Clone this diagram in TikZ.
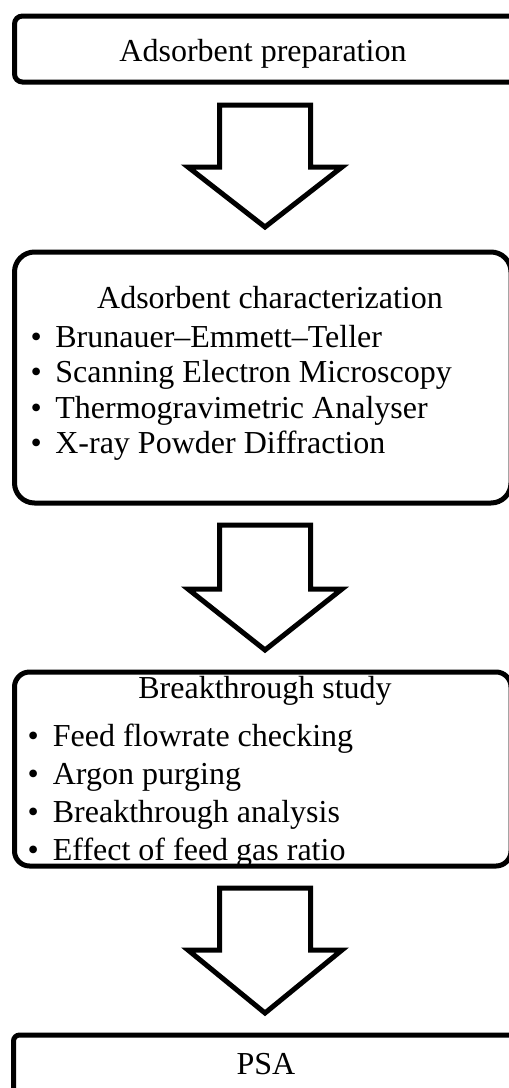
\documentclass[tikz,border=0pt]{standalone}
\usepackage{fontspec}
\setmainfont{Liberation Serif}
\begin{document}
\begin{tikzpicture}[x=1pt,y=-1pt,
  box/.style={draw=black,line width=5pt,fill=white},
  bigarrow/.style={draw=black,line width=5pt,line join=miter,fill=white},
  txt/.style={inner sep=0pt,font=\fontsize{32}{38}\selectfont},
  ttl/.style={txt,anchor=base},
  itm/.style={txt,anchor=base west}]
\useasboundingbox (0,0) rectangle (509,1088);
\clip (0,0) rectangle (509,1088);
% boxes
\draw[box,rounded corners=8pt] (14.5,16) rectangle (518,82);
\draw[box,rounded corners=20pt] (14.5,252) rectangle (511,503);
\draw[box,rounded corners=15pt] (14.5,672) rectangle (511,866);
\draw[box,rounded corners=6pt] (13.5,1035) rectangle (518,1110);
% arrows
\draw[bigarrow] (219.5,105) -- (310.5,105) -- (310.5,167) -- (342,167) -- (265,227) -- (188,167) -- (219.5,167) -- cycle;
\draw[bigarrow] (219.5,525) -- (310.5,525) -- (310.5,589) -- (342,589) -- (265,650) -- (188,589) -- (219.5,589) -- cycle;
\draw[bigarrow] (219.5,888) -- (310.5,888) -- (310.5,950) -- (342,950) -- (265,1013) -- (188,950) -- (219.5,950) -- cycle;
% texts
\node[ttl] (t1) at (263,61) {Adsorbent preparation};
\node[ttl] (t2) at (270,308) {Adsorbent characterization};
\node[itm] (b21) at (30.5,347) {•\hspace{13.5pt}Brunauer–Emmett–Teller};
\node[itm] (b22) at (30.5,382) {•\hspace{13.5pt}Scanning Electron Microscopy};
\node[itm] (b23) at (30.5,418) {•\hspace{13.5pt}Thermogravimetric Analyser};
\node[itm] (b24) at (30.5,453) {•\hspace{13.5pt}X-ray Powder Diffraction};
\node[ttl] (t3) at (265,698) {Breakthrough study};
\node[itm] (b31) at (27.5,746) {•\hspace{14pt}Feed flowrate checking};
\node[itm] (b32) at (27.5,784) {•\hspace{14pt}Argon purging};
\node[itm] (b33) at (27.5,822) {•\hspace{14pt}Breakthrough analysis};
\node[itm] (b34) at (27.5,860) {•\hspace{14pt}Effect of feed gas ratio};
\node[ttl] (t4) at (266,1074) {PSA};
\end{tikzpicture}
\end{document}
